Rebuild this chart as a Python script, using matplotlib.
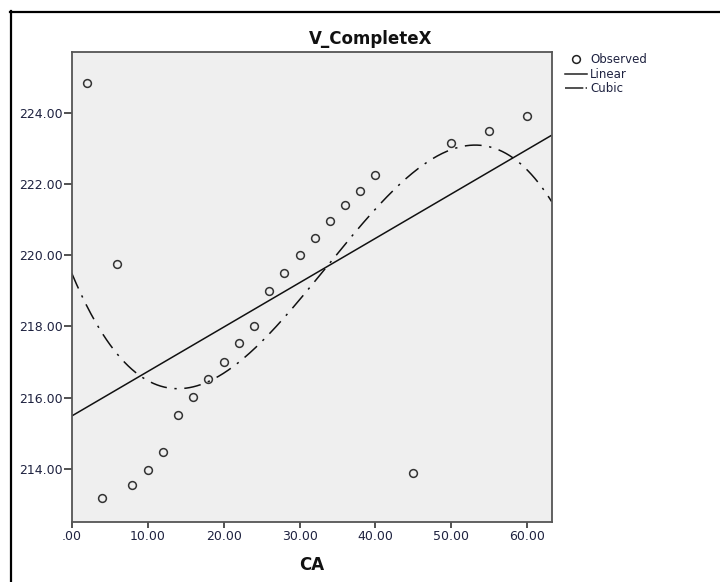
import numpy as np
import matplotlib
matplotlib.use("Agg")
import matplotlib.pyplot as plt
from matplotlib.lines import Line2D
from matplotlib.ticker import FuncFormatter

# Data
ca = [2, 4, 6, 8, 10, 12, 14, 16, 18, 20, 22, 24, 26, 28, 30, 32, 34, 36, 38, 40, 45, 50, 55, 60]
v_complete = [224.83, 213.19, 219.75, 213.55, 213.96, 214.47, 215.52, 216.03, 216.53, 217.01,
              217.53, 218.02, 219.00, 219.50, 220.00, 220.47, 220.96, 221.41, 221.79, 222.25,
              213.90, 223.14, 223.49, 223.91]
x_ticks = [0, 10, 20, 30, 40, 50, 60]
y_ticks = [214, 216, 218, 220, 222, 224]
title = "V_CompleteX"
x_label = "CA"
legend_labels = ["Observed", "Linear", "Cubic"]

x = np.array(ca, dtype=float)
y = np.array(v_complete, dtype=float)
xlim = (0, 63.2)
ylim = (212.52, 225.71)

lin = np.polyfit(x, y, 1)
cub = np.polyfit(x, y, 3)
xs = np.linspace(xlim[0], xlim[1], 400)

W, H = 720, 582
fig = plt.figure(figsize=(W / 100, H / 100), dpi=100)
ax = fig.add_axes([71.7 / W, 1 - 521.7 / H, (551.7 - 71.7) / W, (521.7 - 51.7) / H])
ax.set_facecolor("#efefef")

txt_col = "#1e2240"
cubic_dash = (11, 5, 1.5, 5)
ax.plot(xs, np.polyval(lin, xs), color="#111111", lw=1.1, solid_capstyle="butt")
ax.plot(xs, np.polyval(cub, xs), color="#111111", lw=1.1, dashes=cubic_dash)
ax.plot(x, y, linestyle="none", marker="o", markersize=5.6, markerfacecolor="none",
        markeredgecolor="#333333", markeredgewidth=1.1)

ax.set_xlim(*xlim)
ax.set_ylim(*ylim)
ax.set_xticks(x_ticks)
ax.set_yticks(y_ticks)

def fmt(v, pos):
    s = "%.2f" % v
    if s.startswith("0."):
        s = s[1:]
    return s

ax.xaxis.set_major_formatter(FuncFormatter(fmt))
ax.yaxis.set_major_formatter(FuncFormatter(fmt))
ax.tick_params(axis="both", direction="out", width=1.2, color="#333333",
               labelsize=9, labelcolor=txt_col)
ax.tick_params(axis="y", length=6, pad=0.5)
ax.tick_params(axis="x", length=4.5, pad=1.5)
for s in ax.spines.values():
    s.set_color("#555555")
    s.set_linewidth(1.3)

fig.text(371 / W, 1 - 39 / H, title, ha="center", va="center", fontsize=12,
         fontweight="bold", color="#111111")
fig.text(311.7 / W, 1 - 565 / H, x_label, ha="center", va="center", fontsize=12,
         fontweight="bold", color="#111111")

# Legend (manual, matching SPSS layout)
lx0, lx1 = 565 / W, 586.7 / W
fig.add_artist(Line2D([576 / W], [1 - 59.3 / H], marker="o", markersize=5.6,
                      markerfacecolor="none", markeredgecolor="#222222",
                      markeredgewidth=1.1, linestyle="none"))
fig.add_artist(Line2D([lx0, lx1], [1 - 74 / H] * 2, color="#222222", lw=1.1))
fig.add_artist(Line2D([lx0, lx1], [1 - 88 / H] * 2, color="#222222", lw=1.1,
                      dashes=(12, 1.5, 1.5, 5)))
for lab, yy in zip(legend_labels, [59.3, 74, 88]):
    fig.text(590 / W, 1 - yy / H, lab, ha="left", va="center", fontsize=8.5, color=txt_col)

# Outer frame (extends beyond right/bottom edges)
fig.add_artist(Line2D([10.5 / W, 10.5 / W], [1 - 11 / H, -0.05], color="black", lw=1.6))
fig.add_artist(Line2D([10 / W, 1.05], [1 - 11.5 / H, 1 - 11.5 / H], color="black", lw=1.6))

fig.savefig("out.png", dpi=100)
